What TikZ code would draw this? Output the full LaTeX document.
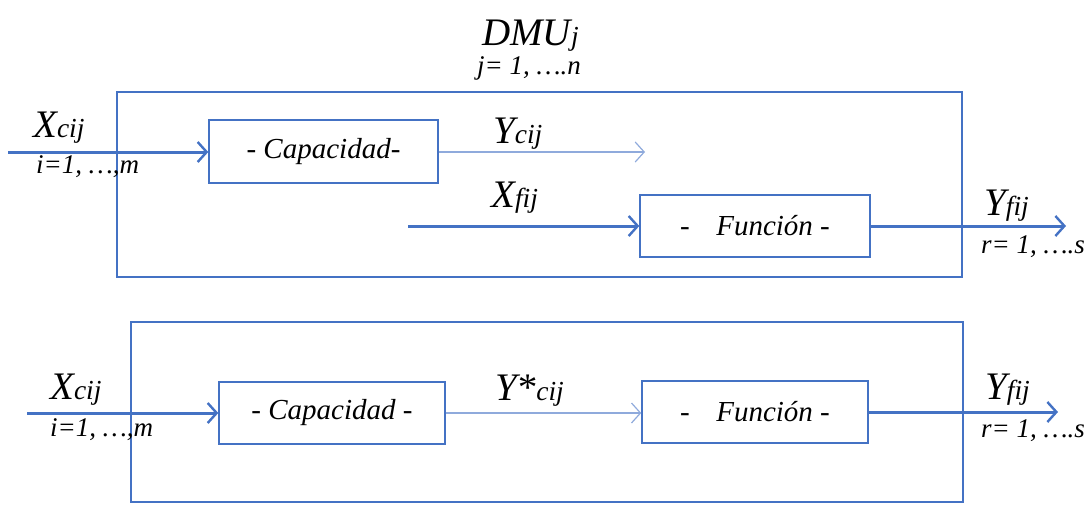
\documentclass[tikz,border=0pt]{standalone}
\usepackage{fontspec}
\setmainfont{Liberation Serif}
\usetikzlibrary{arrows.meta}
\usetikzlibrary{calc}

\definecolor{boxblue}{RGB}{68,114,196}
\definecolor{thinblue}{RGB}{143,170,220}

\newcommand{\mainsym}[1]{{\fontsize{39}{41}\selectfont #1}}
\newcommand{\subsym}[1]{{\fontsize{27.5}{29}\selectfont #1}}
\newcommand{\idxtxt}[1]{{\fontsize{27}{29}\selectfont #1}}

\tikzset{
  frame/.style={draw=boxblue, line width=1.4pt},
  blockbox/.style={draw=boxblue, line width=1.4pt, fill=white, inner sep=0pt,
    font=\fontsize{29}{31}\selectfont\itshape},
  flowarrow/.style={draw=boxblue, line width=3pt, -{Straight Barb[length=9pt,width=20pt,line width=2.4pt]}},
  thinarrow/.style={draw=thinblue, line width=1.2pt, -{Straight Barb[length=9pt,width=20pt,line width=1.2pt]}},
  lbl/.style={anchor=base west, inner sep=0pt, font=\itshape}
}

\begin{document}
\begin{tikzpicture}[x=1pt,y=-1pt]
\useasboundingbox (0,0) rectangle (1088,504);
% outer boxes
\draw[frame] (117,92) rectangle (962,277);
\draw[frame] (131,322) rectangle (963,502);
% upper DMU
\node[blockbox, minimum width=229pt, minimum height=63pt] (cap1) at (323.5,151.5) {- Capacidad-};
\node[blockbox, minimum width=230pt, minimum height=62pt] (fun1) at (755,226) {-\enspace\, Función -};
\coordinate (xc1) at (8,152);
\coordinate (yc1) at (645,152);
\coordinate (xf1) at (408,226);
\coordinate (yf1) at (1066,226);
\draw[flowarrow] (xc1) -- (xc1 -| cap1.west);
\draw[thinarrow] (cap1.east |- yc1) -- (yc1);
\draw[flowarrow] (xf1) -- (fun1.west);
\draw[flowarrow] (fun1.east) -- (yf1);
% lower DMU
\node[blockbox, minimum width=226pt, minimum height=62pt] (cap2) at (332,413) {- Capacidad -};
\node[blockbox, minimum width=226pt, minimum height=62pt] (fun2) at (755,412) {-\enspace\, Función -};
\coordinate (xc2) at (27,413);
\coordinate (yf2) at (1058,412);
\draw[flowarrow] (xc2) -- (xc2 -| cap2.west);
\draw[thinarrow] (cap2.east) -- (cap2.east -| fun2.west);
\draw[flowarrow] (fun2.east) -- (yf2);
% labels
\node[lbl] (dmu) at (482,45) {\mainsym{DMU}\subsym{j}};
\node[lbl] (jn) at (477,74) {\idxtxt{j= 1, ….n}};
\node[lbl] (xcl1) at (33,137) {\mainsym{X}\subsym{cij}};
\node[lbl] (im1) at (36,173) {\idxtxt{i=1, …,m}};
\node[lbl] (ycl1) at (493,143) {\mainsym{Y}\subsym{cij}};
\node[lbl] (xfl1) at (491,207) {\mainsym{X}\subsym{fij}};
\node[lbl] (yfl1) at (984,215) {\mainsym{Y}\subsym{fij}};
\node[lbl] (rs1) at (981,253) {\idxtxt{r= 1, ….s}};
\node[lbl] (xcl2) at (50,399) {\mainsym{X}\subsym{cij}};
\node[lbl] (im2) at (50,436) {\idxtxt{i=1, …,m}};
\node[lbl] (ycl2) at (495,400) {\mainsym{Y*}\subsym{cij}};
\node[lbl] (yfl2) at (985,399) {\mainsym{Y}\subsym{fij}};
\node[lbl] (rs2) at (981,437) {\idxtxt{r= 1, ….s}};
\end{tikzpicture}
\end{document}
